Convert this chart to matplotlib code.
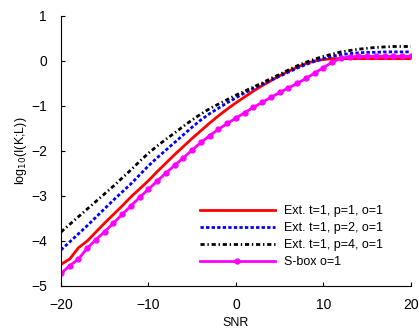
import numpy as np
import matplotlib
matplotlib.use("Agg")
import matplotlib.pyplot as plt

plt.rcParams['font.family'] = ['Liberation Sans', 'DejaVu Sans']

snr = np.arange(-20, 21)

# log10 I(K;L) for each curve, one value per SNR step
ext_p1 = [-4.52, -4.40, -4.15, -4.00, -3.80, -3.60, -3.41, -3.22, -3.02, -2.84,
          -2.66, -2.46, -2.27, -2.08, -1.90, -1.72, -1.55, -1.38, -1.22, -1.07,
          -0.93, -0.80, -0.67, -0.55, -0.44, -0.33, -0.23, -0.14, -0.06, 0.00,
          0.03, 0.05, 0.05, 0.05, 0.05, 0.05, 0.05, 0.05, 0.05, 0.05, 0.05]
ext_p2 = [-4.20, -4.02, -3.84, -3.66, -3.47, -3.28, -3.09, -2.91, -2.73, -2.53,
          -2.33, -2.15, -1.98, -1.81, -1.64, -1.47, -1.31, -1.17, -1.05, -0.93,
          -0.82, -0.71, -0.61, -0.52, -0.43, -0.34, -0.25, -0.16, -0.08, -0.01,
          0.05, 0.10, 0.14, 0.16, 0.18, 0.19, 0.19, 0.20, 0.20, 0.20, 0.20]
ext_p4 = [-3.80, -3.63, -3.46, -3.29, -3.12, -2.95, -2.78, -2.60, -2.42, -2.23,
          -2.05, -1.89, -1.74, -1.60, -1.45, -1.31, -1.18, -1.06, -0.96, -0.86,
          -0.76, -0.67, -0.58, -0.49, -0.39, -0.30, -0.20, -0.11, -0.03, 0.04,
          0.10, 0.15, 0.20, 0.23, 0.26, 0.28, 0.30, 0.31, 0.32, 0.32, 0.32]
sbox = [-4.72, -4.55, -4.40, -4.16, -3.97, -3.79, -3.60, -3.41, -3.22, -3.03,
        -2.85, -2.67, -2.49, -2.32, -2.15, -1.98, -1.81, -1.66, -1.52, -1.39,
        -1.27, -1.15, -1.03, -0.92, -0.81, -0.70, -0.60, -0.50, -0.39, -0.27,
        -0.15, -0.03, 0.06, 0.09, 0.10, 0.10, 0.10, 0.10, 0.10, 0.10, 0.10]

labels = ["Ext. t=1, p=1, o=1", "Ext. t=1, p=2, o=1",
          "Ext. t=1, p=4, o=1", "S-box o=1"]

fig = plt.figure(figsize=(4.19, 3.31), dpi=100)
ax = fig.add_axes([0.1456, 0.136, 0.835, 0.816])

ax.plot(snr, ext_p1, color='red', lw=2, label=labels[0])
ax.plot(snr, ext_p2, color='blue', lw=2, ls=(0, (1.2, 0.8)), label=labels[1])
ax.plot(snr, ext_p4, color='black', lw=2, ls=(0, (1.5, 1, 0.5, 1)), label=labels[2])
ax.plot(snr, sbox, color='magenta', lw=2, marker='o', ms=3.5, label=labels[3])

ax.set_xlim(-20, 20)
ax.set_ylim(-5, 1)
ax.set_xticks([-20, -10, 0, 10, 20])
ax.set_yticks(np.arange(-5, 2, 1))
ax.tick_params(direction='in', length=3, labelsize=10)
ax.tick_params(axis='x', pad=9)
ax.tick_params(axis='y', pad=10)
ax.spines['top'].set_visible(False)
ax.spines['right'].set_visible(False)

ax.set_xlabel('SNR', fontsize=9, labelpad=3)
ax.set_ylabel(r'log$_{10}$(I(K;L))', fontsize=9, labelpad=1.5)

ax.legend(loc='upper left', bbox_to_anchor=(0.397, 0.30), frameon=False,
          fontsize=9, handlelength=6, handletextpad=0.7, labelspacing=0.4,
          borderpad=0, borderaxespad=0)

fig.savefig('out.png', dpi=100)
